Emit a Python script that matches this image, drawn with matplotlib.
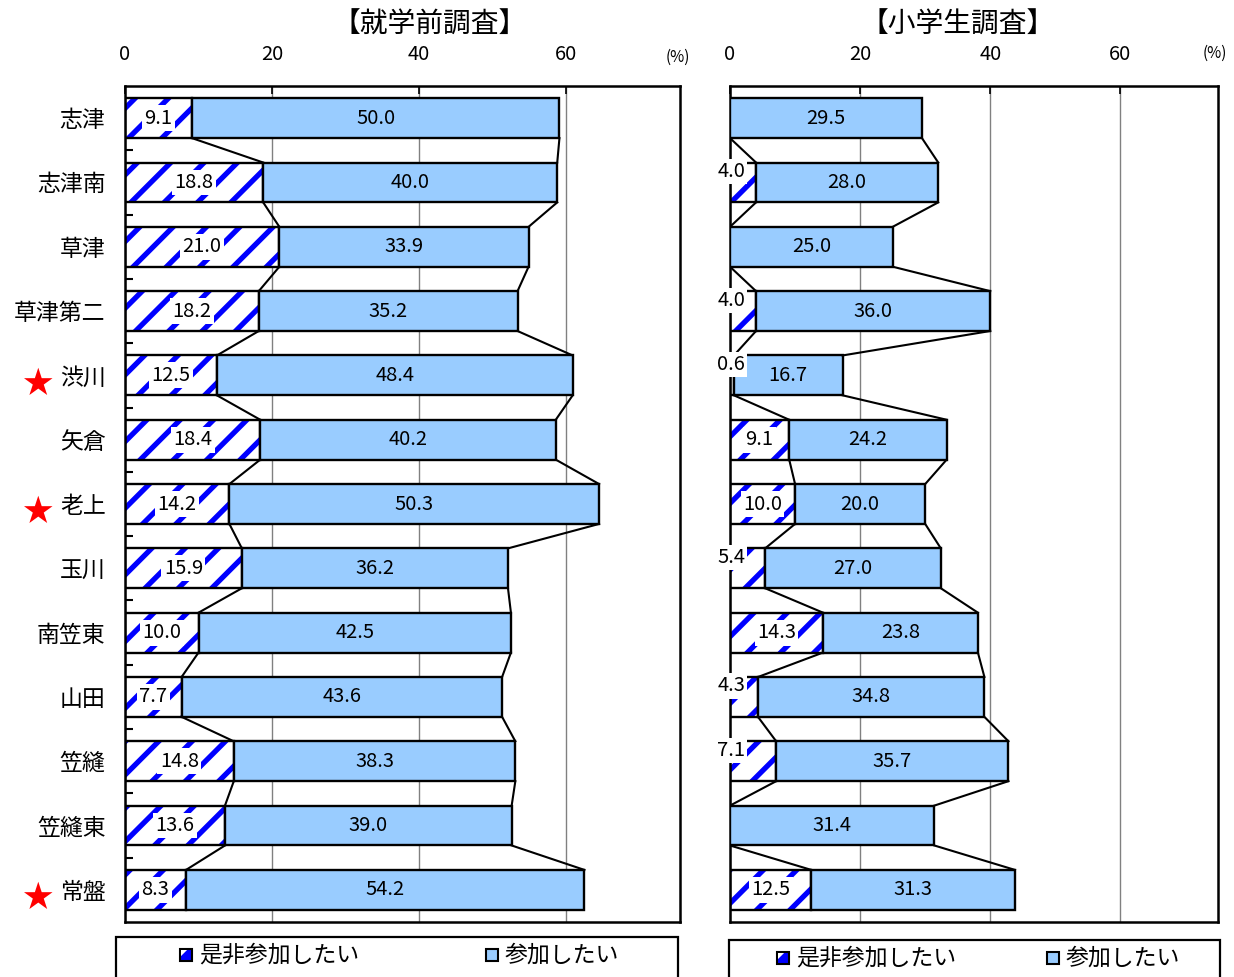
import matplotlib.pyplot as plt
import numpy as np
from matplotlib.patches import Rectangle

plt.rcParams['font.family'] = ['Noto Sans CJK JP', 'DejaVu Sans']
plt.rcParams['hatch.linewidth'] = 3.8

schools = ['志津', '志津南', '草津', '草津第二', '渋川', '矢倉', '老上',
           '玉川', '南笠東', '山田', '笠縫', '笠縫東', '常盤']
starred = ['渋川', '老上', '常盤']

# 就学前調査
pre_must = np.array([9.1, 18.8, 21.0, 18.2, 12.5, 18.4, 14.2, 15.9, 10.0, 7.7, 14.8, 13.6, 8.3])
pre_want = np.array([50.0, 40.0, 33.9, 35.2, 48.4, 40.2, 50.3, 36.2, 42.5, 43.6, 38.3, 39.0, 54.2])
# 小学生調査
elem_must = np.array([0, 4.0, 0, 4.0, 0.6, 9.1, 10.0, 5.4, 14.3, 4.3, 7.1, 0, 12.5])
elem_want = np.array([29.5, 28.0, 25.0, 36.0, 16.7, 24.2, 20.0, 27.0, 23.8, 34.8, 35.7, 31.4, 31.3])

xticks = [0, 20, 40, 60]
legend_labels = ['是非参加したい', '参加したい']

HATCH_BLUE = '#0000FF'
LIGHT_BLUE = '#99CCFF'

W, H = 1234, 977
fig = plt.figure(figsize=(W / 100, H / 100), dpi=100)


def fx(px):
    return px / W


def fy(py):
    return 1 - py / H


ax1 = fig.add_axes([fx(125), fy(922), fx(555), 836 / H])
ax2 = fig.add_axes([fx(730), fy(922), fx(488), 836 / H])


def draw(ax, must, want, xmax, shift_small):
    y = np.arange(len(schools))
    h = 0.62
    ax.barh(y, must, height=h, color='white', edgecolor=HATCH_BLUE, hatch='/',
            linewidth=0, zorder=2)
    ax.barh(y, must, height=h, fill=False, edgecolor='black', linewidth=1.7, zorder=3)
    ax.barh(y, want, left=must, height=h, color=LIGHT_BLUE, edgecolor='black',
            linewidth=1.7, zorder=3)
    tot = must + want
    for i in range(len(y) - 1):
        ax.plot([must[i], must[i + 1]], [y[i] + h / 2, y[i + 1] - h / 2],
                color='black', lw=1.5, zorder=3)
        ax.plot([tot[i], tot[i + 1]], [y[i] + h / 2, y[i + 1] - h / 2],
                color='black', lw=1.5, zorder=3)
    for i in range(len(y)):
        if must[i] > 0:
            if shift_small and must[i] < 8:
                ax.text(0.2, y[i] - 0.17, f'{must[i]:.1f}', ha='center', va='center',
                        fontsize=14.5, zorder=5, clip_on=False,
                        bbox=dict(boxstyle='square,pad=0.1', fc='white', ec='none'))
            else:
                ax.text(must[i] / 2, y[i], f'{must[i]:.1f}', ha='center', va='center',
                        fontsize=14.5, zorder=5,
                        bbox=dict(boxstyle='square,pad=0.12', fc='white', ec='none'))
        ax.text(must[i] + want[i] / 2, y[i], f'{want[i]:.1f}', ha='center', va='center',
                fontsize=14.5, zorder=5)

    ax.set_xlim(0, xmax)
    ax.set_ylim(len(schools) - 0.5, -0.5)
    ax.xaxis.tick_top()
    ax.set_xticks(xticks)
    ax.set_xticklabels([str(t) for t in xticks])
    ax.tick_params(axis='x', direction='in', length=6, width=1.2, labelsize=14.5, pad=15)
    ax.grid(axis='x', color='#808080', lw=1.0, zorder=0)
    ax.set_axisbelow(True)
    for s in ax.spines.values():
        s.set_linewidth(1.8)
        s.set_color('black')


draw(ax1, pre_must, pre_want, 75.5, False)
draw(ax2, elem_must, elem_want, 75.0, True)

ax1.set_yticks(np.arange(len(schools)))
ax1.set_yticklabels(schools, fontsize=16.5)
ax1.tick_params(axis='y', length=0, pad=14)
ax1.set_yticks(np.arange(len(schools) - 1) + 0.5, minor=True)
ax1.tick_params(axis='y', which='minor', direction='in', length=6, width=1.5)
ax2.set_yticks([])

for i, s in enumerate(schools):
    if s in starred:
        ax1.annotate('★', xy=(0, i), xycoords=('figure fraction', 'data'),
                     xytext=(38, -9), textcoords='offset pixels',
                     ha='center', va='center', color='#FF0000', fontsize=22,
                     annotation_clip=False)

fig.text(fx(430), fy(25), '【就学前調査】', ha='center', va='center', fontsize=20)
fig.text(fx(958), fy(25), '【小学生調査】', ha='center', va='center', fontsize=20)
fig.text(fx(678), fy(57), '(%)', ha='center', va='center', fontsize=11)
fig.text(fx(1215), fy(53), '(%)', ha='center', va='center', fontsize=11)

# legend boxes
for (x0, x1, ytop, p1, p2) in [(116, 678, 937, 180, 486), (729, 1220, 940, 777, 1047)]:
    fig.patches.append(Rectangle((fx(x0), fy(985)), fx(x1 - x0), (985 - ytop) / H,
                                 transform=fig.transFigure, fill=False,
                                 edgecolor='black', lw=1.6))
    yc = ytop + 18
    fig.patches.append(Rectangle((fx(p1), fy(yc + 6)), fx(12), 12 / H,
                                 transform=fig.transFigure, facecolor=HATCH_BLUE,
                                 edgecolor='black', lw=1.5))
    fig.patches.append(Rectangle((fx(p1 + 1), fy(yc + 5)), fx(10), 10 / H,
                                 transform=fig.transFigure, facecolor='none',
                                 edgecolor='white', hatch='/', lw=0))
    fig.patches.append(Rectangle((fx(p2), fy(yc + 6)), fx(12), 12 / H,
                                 transform=fig.transFigure, facecolor=LIGHT_BLUE,
                                 edgecolor='black', lw=1.5))
    fig.text(fx(p1 + 19), fy(yc), legend_labels[0], ha='left', va='center', fontsize=16.5)
    fig.text(fx(p2 + 19), fy(yc), legend_labels[1], ha='left', va='center', fontsize=16.5)

fig.savefig('out.png', dpi=100)
